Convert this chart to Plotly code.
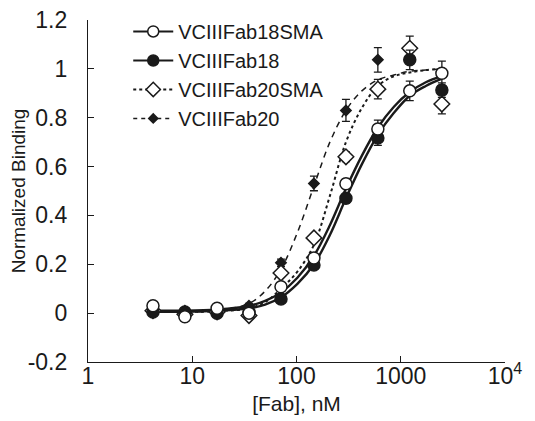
import plotly.graph_objects as go

# concentrations (nM)
conc = [4.2, 8.5, 17.3, 35, 71, 147, 298, 603, 1220, 2480]

fab18sma = [0.03, -0.015, 0.02, 0.0, 0.108, 0.226, 0.53, 0.754, 0.91, 0.982]
fab18sma_err = [0.01, 0.01, 0.01, 0.01, 0.01, 0.015, 0.02, 0.036, 0.04, 0.05]
fab18 = [0.005, 0.005, 0.0, 0.005, 0.058, 0.197, 0.47, 0.717, 1.037, 0.913]
fab18_err = [0.01, 0.01, 0.01, 0.01, 0.01, 0.015, 0.02, 0.03, 0.04, 0.03]
fab20sma = [0.01, -0.005, 0.005, -0.01, 0.164, 0.308, 0.64, 0.917, 1.084, 0.856]
fab20sma_err = [0.01, 0.01, 0.01, 0.01, 0.01, 0.015, 0.02, 0.04, 0.05, 0.04]
conc20 = [4.2, 8.5, 17.3, 35, 71, 147, 298, 603]
fab20 = [0.01, 0.01, 0.01, 0.03, 0.206, 0.531, 0.83, 1.037]
fab20_err = [0.01, 0.01, 0.01, 0.01, 0.015, 0.03, 0.045, 0.05]

# fitted curves
curve_conc = [4.2, 8.5, 17.3, 35, 50, 71, 102, 147, 209, 298, 424, 603, 860, 1220, 1740, 2480]
curve18sma = [0.01, 0.01, 0.015, 0.03, 0.05, 0.085, 0.145, 0.235, 0.36, 0.51, 0.645, 0.76, 0.845, 0.905, 0.945, 0.97]
curve18 = [0.005, 0.006, 0.01, 0.02, 0.035, 0.065, 0.12, 0.20, 0.32, 0.47, 0.61, 0.73, 0.82, 0.89, 0.93, 0.96]
curve20sma = [0.005, 0.005, 0.008, 0.02, 0.045, 0.10, 0.17, 0.28, 0.48, 0.70, 0.84, 0.93, 0.97, 0.985, 0.995, 1.0]
curve20 = [0.005, 0.005, 0.01, 0.04, 0.09, 0.18, 0.33, 0.52, 0.70, 0.83, 0.91, 0.955, 0.975, 0.99, 0.995, 1.0]

names = ["VCIIIFab18SMA", "VCIIIFab18", "VCIIIFab20SMA", "VCIIIFab20"]
xtick_vals = [1, 10, 100, 1000, 10000]
xtick_text = ["1", "10", "100", "1000", "10<sup>4</sup>"]
ytick_vals = [-0.2, 0, 0.2, 0.4, 0.6, 0.8, 1.0, 1.2]
ytick_text = ["-0.2", "0", "0.2", "0.4", "0.6", "0.8", "1", "1.2"]

K = "#1a1a1a"
styles = [
    dict(dash="solid", lw=2.4, sym="circle", size=12, fill="white"),
    dict(dash="solid", lw=2.4, sym="circle", size=12, fill=K),
    dict(dash="dot", lw=2.0, sym="diamond", size=12, fill="white"),
    dict(dash="6px,5px", lw=1.5, sym="diamond", size=8, fill=K),
]

fig = go.Figure()
curves = [curve18sma, curve18, curve20sma, curve20]
for c, st in zip(curves, styles):
    fig.add_trace(go.Scatter(x=curve_conc, y=c, mode="lines", line_shape="spline",
                             line=dict(color=K, width=st["lw"], dash=st["dash"]),
                             showlegend=False, hoverinfo="skip"))

data = [(conc20, fab20, fab20_err, styles[3]),
        (conc, fab20sma, fab20sma_err, styles[2]),
        (conc, fab18, fab18_err, styles[1]),
        (conc, fab18sma, fab18sma_err, styles[0])]
for xs, ys, es, st in data:
    fig.add_trace(go.Scatter(x=xs, y=ys, mode="markers",
                             error_y=dict(type="data", array=es, color=K, thickness=1.3, width=4),
                             marker=dict(symbol=st["sym"], size=st["size"], color=st["fill"],
                                         line=dict(color=K, width=1.5)),
                             showlegend=False))

for n, st in zip(names, styles):
    fig.add_trace(go.Scatter(x=[None], y=[None], mode="lines+markers", name=n,
                             line=dict(color=K, width=min(st["lw"], 2),
                                       dash=st["dash"] if st["dash"] != "6px,5px" else "4px,4px"),
                             marker=dict(symbol=st["sym"], size=st["size"] - 1, color=st["fill"],
                                         line=dict(color=K, width=1.5))))

font = "Liberation Sans, Arial, Helvetica, sans-serif"
fig.update_layout(
    width=535, height=421,
    margin=dict(l=80, r=38, t=12, b=67, autoexpand=False),
    plot_bgcolor="white", paper_bgcolor="white",
    font=dict(family=font, size=21, color=K),
    legend=dict(x=0.0965, y=1.0235, xanchor="left", yanchor="top", bgcolor="rgba(0,0,0,0)",
                font=dict(size=20), itemwidth=40, tracegroupgap=0),
    xaxis=dict(type="log", range=[0, 4], tickvals=xtick_vals, ticktext=xtick_text,
               ticks="inside", ticklen=6, tickwidth=1.2, tickcolor=K, automargin=False,
               ticklabelstandoff=-7, tickfont=dict(size=23), ticklabeloverflow="allow",
               showline=True, linecolor=K, linewidth=1.2, showgrid=False, zeroline=False,
               title=dict(text="[Fab], nM", font=dict(size=21), standoff=8)),
    yaxis=dict(range=[-0.2, 1.2], tickvals=ytick_vals, ticktext=ytick_text,
               ticks="inside", ticklen=6, tickwidth=1.2, tickcolor=K, automargin=False,
               ticklabelstandoff=15, tickfont=dict(size=23), ticklabeloverflow="allow",
               showline=True, linecolor=K, linewidth=1.2, showgrid=False, zeroline=False,
               title=dict(text="Normalized Binding", font=dict(size=19), standoff=3)),
)

fig.write_html("out.html")
